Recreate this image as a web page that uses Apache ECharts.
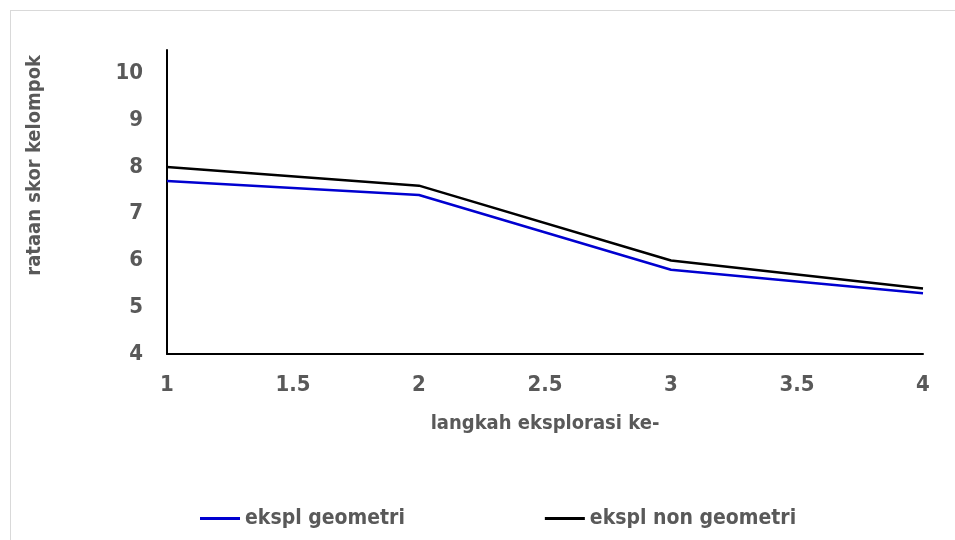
<!DOCTYPE html>
<html>
<head>
<meta charset="utf-8">
<script src="https://cdn.jsdelivr.net/npm/echarts@6/dist/echarts.min.js"></script>
<style>
    html, body { margin: 0; padding: 0; background: #fff; }
    #frame { position: absolute; left: 10px; top: 10px; width: 960px; height: 540px;
             border-left: 1px solid #d9d9d9; border-top: 1px solid #d9d9d9; }
    #main { position: absolute; left: 0; top: 0; width: 955px; height: 540px; }
</style>
</head>
<body>
<div id="frame"></div>
<div id="main"></div>
<script>
    // langkah eksplorasi ke-
    const steps = [1, 2, 3, 4]
    const geometri = [7.7, 7.4, 5.8, 5.3]
    const nonGeometri = [8.0, 7.6, 6.0, 5.4]
    const seriesNames = ['ekspl geometri', 'ekspl non geometri']

    const FONT = '"Liberation Sans Narrow", "DejaVu Sans Condensed", sans-serif'
    const GREY = '#595959'

    const toPoints = (vals) => steps.map((s, i) => [s, vals[i]])

    const chart = echarts.init(document.getElementById('main'))
    chart.setOption({
        animation: false,
        textStyle: { fontFamily: FONT },
        grid: { left: 167, right: 32, top: 50, bottom: 186 },
        legend: {
            left: 195,
            top: 503,
            itemWidth: 40,
            itemHeight: 3,
            itemGap: 140,
            icon: 'rect',
            textStyle: { fontFamily: FONT, fontSize: 21, fontWeight: 'bold', color: GREY },
            data: seriesNames
        },
        xAxis: {
            type: 'value',
            min: 1,
            max: 4,
            interval: 0.5,
            name: 'langkah eksplorasi ke-',
            nameLocation: 'middle',
            nameGap: 60,
            nameTextStyle: { fontFamily: FONT, fontSize: 20, fontWeight: 'bold', color: GREY },
            axisLine: { lineStyle: { color: '#000', width: 2 } },
            axisTick: { show: false },
            splitLine: { show: false },
            axisLabel: { margin: 20, fontFamily: FONT, fontSize: 22, fontWeight: 'bold', color: GREY }
        },
        yAxis: {
            type: 'value',
            min: 4,
            max: 10.5,
            interval: 1,
            axisLine: { show: true, lineStyle: { color: '#000', width: 2 } },
            axisTick: { show: false },
            splitLine: { show: false },
            axisLabel: { margin: 24, showMaxLabel: false, fontFamily: FONT, fontSize: 22, fontWeight: 'bold', color: GREY }
        },
        graphic: [{
            type: 'text',
            left: 25,
            top: 55,
            rotation: Math.PI / 2,
            style: {
                text: 'rataan skor kelompok',
                fontFamily: FONT,
                fontSize: 20,
                fontWeight: 'bold',
                fill: GREY
            }
        }],
        series: [
            {
                name: seriesNames[0],
                type: 'line',
                data: toPoints(geometri),
                showSymbol: false,
                symbol: 'none',
                lineStyle: { color: '#0000d0', width: 2.5 },
                itemStyle: { color: '#0000d0' }
            },
            {
                name: seriesNames[1],
                type: 'line',
                data: toPoints(nonGeometri),
                showSymbol: false,
                symbol: 'none',
                lineStyle: { color: '#000', width: 2.5 },
                itemStyle: { color: '#000' }
            }
        ]
    })
</script>
</body>
</html>
